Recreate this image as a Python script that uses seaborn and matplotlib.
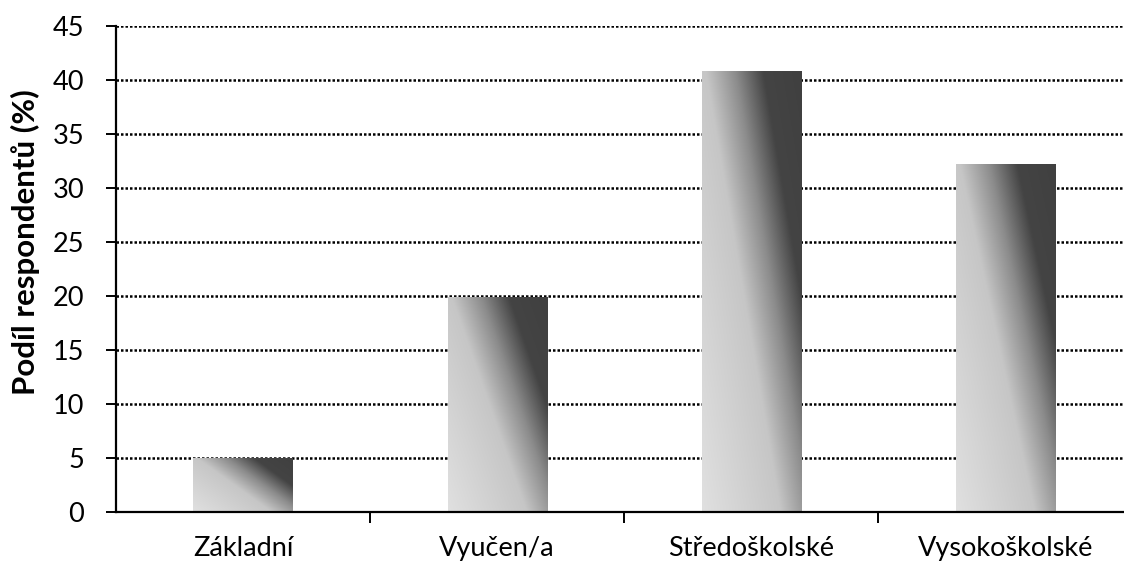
import numpy as np
import pandas as pd
import matplotlib
matplotlib.use("Agg")
import matplotlib.pyplot as plt
from matplotlib.colors import LinearSegmentedColormap
import seaborn as sns

categories = ["Základní", "Vyučen/a", "Středoškolské", "Vysokoškolské"]
values = [5.0, 19.9, 40.8, 32.2]
yticks = [0, 5, 10, 15, 20, 25, 30, 35, 40, 45]
ylabel = "Podíl respondentů (%)"

sns.set_theme(style="white")
plt.rcParams['font.family'] = ['Lato', 'DejaVu Sans']

df = pd.DataFrame({"cat": categories, "val": values})

fig = plt.figure(figsize=(11.24, 5.67), dpi=100)
ax = fig.add_axes([116/1124, 1 - 512/567, (1124-116)/1124, (512-26)/567])

sns.barplot(data=df, x="cat", y="val", ax=ax, width=0.39, color="#c8c8c8",
            edgecolor="none", linewidth=0, zorder=2)

cmap = LinearSegmentedColormap.from_list("g", [
    (0.0, "#e0e0e0"), (0.45, "#c6c6c6"), (0.62, "#8c8c8c"),
    (0.78, "#444444"), (1.0, "#404040")])

n = 200
uu, vv = np.meshgrid(np.linspace(0, 1, n), np.linspace(0, 1, n))
grad = (uu + 0.75 * vv) / 1.75

for p in ax.patches:
    x0, y0 = p.get_x(), p.get_y()
    w, h = p.get_width(), p.get_height()
    im = ax.imshow(grad, cmap=cmap, vmin=0, vmax=1, origin="lower",
                   extent=[x0, x0 + w, y0, y0 + h], aspect="auto",
                   interpolation="bilinear", zorder=2)
    im.set_clip_path(p)
    p.set_facecolor("none")

ax.set_xlim(-0.5, 3.468)
ax.set_ylim(0, 45)
ax.set_yticks(yticks)
ax.set_yticklabels([str(t) for t in yticks])

ax.set_axisbelow(True)
ax.yaxis.grid(True, color="black", linewidth=1.8, linestyle=(0, (1, 0.8)), zorder=0)
ax.xaxis.grid(False)

for s in ["top", "right"]:
    ax.spines[s].set_visible(False)
for s in ["left", "bottom"]:
    ax.spines[s].set_color("black")
    ax.spines[s].set_linewidth(1.6)
    ax.spines[s].set_zorder(3)

ax.set_xticks(range(len(categories)))
ax.set_xticklabels(categories)
ax.set_xticks([0.5, 1.5, 2.5], minor=True)
ax.tick_params(axis="x", which="major", length=0, pad=17, labelsize=19.5, colors="black")
ax.tick_params(axis="x", which="minor", length=8, width=1.4, color="black", direction="out", bottom=True)
ax.tick_params(axis="y", which="major", length=7, width=1.4, color="black", direction="out",
               left=True, pad=16, labelsize=19.5, labelcolor="black")

ax.set_xlabel("")
ax.set_ylabel(ylabel, fontsize=22.5, fontweight="bold", color="black")
ax.yaxis.set_label_coords((40 - 116) / 1008, (512 - 242) / 486)

fig.savefig("out.png", dpi=100)
